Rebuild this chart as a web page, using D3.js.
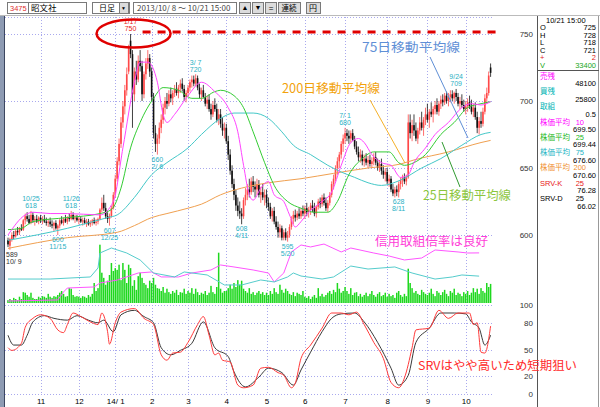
<!DOCTYPE html>
<html><head><meta charset="utf-8">
<script src="https://cdn.jsdelivr.net/npm/d3@7"></script>
<style>body{margin:0;background:#fff;}svg{display:block;font-family:"Liberation Sans",Arial,sans-serif;}</style>
</head><body><svg id="c" width="600" height="407"></svg>
<script>
// ---- daily OHLC (2013/10/8 .. 2014/10/21), month by month ----
const open=[596,592,597,600,599,603,602,605,604,611,614,612,609,615,611,612,610,
613,611,612,610,609,610,608,607,609,605,607,611,609,612,610,613,612,615,612,613,
611,612,610,611,609,610,608,609,611,609,610,612,619,624,620,614,612,614,620,
630,642,655,668,684,696,708,722,745,735,705,722,716,730,726,705,720,728,732,
722,703,676,668,672,680,686,695,700,698,705,702,706,709,706,710,713,709,703,
706,710,714,716,713,717,710,705,708,703,698,701,694,690,697,694,686,690,683,678,
680,670,660,648,638,630,622,618,616,614,626,630,634,632,640,636,634,638,630,632,628,
630,624,621,614,618,610,606,602,605,598,602,598,600,606,612,615,613,616,614,618,
616,620,617,619,622,620,616,621,625,623,628,624,620,624,630,638,642,650,655,660,668,
672,676,674,672,676,671,666,662,658,660,655,657,654,656,653,655,658,654,650,653,648,645,
647,640,642,634,631,634,632,638,641,643,640,643,684,676,682,678,672,678,684,680,686,
690,686,692,690,694,697,692,698,701,699,704,700,703,705,702,706,703,698,700,697,
694,696,699,696,692,695,688,680,685,683,692,702,706,725];
const high=[598,598,602,603,604,606,606,608,612,616,617,615,618,617,614,615,614,
615,614,615,613,612,613,611,610,611,608,612,614,613,615,614,616,618,617,615,615,
614,614,613,613,612,612,611,612,613,612,613,620,628,630,624,617,616,622,632,
645,658,672,688,700,712,725,742,750,738,725,730,734,738,730,722,732,738,735,
725,706,682,675,684,690,698,703,706,708,710,708,712,714,712,716,717,712,708,
712,716,719,719,720,719,713,710,712,706,704,705,698,700,702,698,694,694,688,684,
683,674,664,652,642,634,628,625,620,628,635,638,642,643,644,640,642,641,636,638,634,
634,628,624,620,621,614,610,608,607,604,605,603,608,614,618,619,618,620,620,622,
622,624,621,624,626,624,622,627,628,630,631,628,626,632,640,645,652,658,662,670,675,
680,679,678,678,679,674,670,666,664,663,660,661,659,660,658,661,662,657,656,657,652,650,
650,645,644,638,636,637,640,643,645,646,645,690,690,686,690,684,680,688,692,688,695,
698,694,699,696,700,702,700,704,705,706,707,706,708,708,707,709,706,703,705,701,
700,702,704,701,698,699,692,688,692,695,705,710,722,728];
const low=[591,589,595,597,598,600,600,603,603,608,610,608,608,609,607,609,608,
609,608,609,607,606,606,605,603,604,600,605,608,607,609,608,610,611,611,609,610,
608,609,607,608,606,607,606,607,608,607,608,611,617,618,612,609,607,613,619,
628,640,652,665,680,690,704,720,732,680,700,712,714,722,700,702,716,724,718,
700,672,662,660,668,676,683,690,694,696,699,697,703,704,702,706,707,700,699,
703,707,710,711,711,708,702,700,702,696,694,692,686,688,692,684,682,680,674,672,
668,656,645,635,626,618,614,612,608,612,622,626,628,630,632,628,630,628,624,626,622,
620,618,612,610,608,604,598,598,596,596,596,595,598,604,608,610,611,612,612,614,
612,614,613,615,617,614,613,619,620,621,622,618,617,622,628,634,640,645,650,657,662,
668,670,668,669,670,664,660,655,654,652,651,652,650,651,650,652,652,648,647,645,642,640,
638,636,632,629,628,629,628,634,636,638,637,642,672,670,674,670,668,675,678,674,682,
684,680,688,684,690,690,689,694,696,697,698,696,699,700,698,700,696,694,695,692,
690,692,694,690,688,686,676,675,680,681,690,698,704,718];
const close=[593,597,600,599,603,602,605,604,611,614,612,609,615,611,612,610,613,
611,612,610,609,610,608,607,609,605,607,611,609,612,610,613,612,615,612,613,611,
612,610,611,609,610,608,609,611,609,610,612,619,624,620,614,612,614,620,630,
642,655,668,684,696,708,720,740,735,705,722,716,730,726,705,720,728,732,722,
703,676,668,672,680,686,695,700,698,705,702,706,709,706,710,713,709,703,706,
710,714,716,713,717,710,705,708,703,698,701,694,690,697,694,686,690,683,678,680,
670,660,648,638,630,622,618,616,614,626,630,634,632,640,636,634,638,630,632,628,630,
624,621,614,618,610,606,602,605,598,602,598,600,606,612,615,613,616,614,618,616,
620,617,619,622,620,616,621,625,623,628,624,620,624,630,638,642,650,655,660,668,672,
676,674,672,676,671,666,662,658,660,655,657,654,656,653,655,658,654,650,653,648,645,647,
640,642,634,631,634,632,638,641,643,640,643,684,676,682,678,672,678,684,680,686,690,
686,692,690,694,697,692,698,701,699,704,700,703,705,702,706,703,698,700,697,694,
696,699,696,692,695,688,680,685,683,692,702,706,719,721];
// volume, thousand shares
const volume=[5,7,5,9,7,5,11,7,19,18,14,11,18,9,7,7,11,
9,12,11,9,16,11,9,12,11,14,18,21,16,11,12,26,25,14,11,12,
11,9,12,11,9,14,11,16,35,21,26,102,53,44,32,39,49,70,56,
61,58,67,40,70,58,35,67,61,30,40,23,47,53,44,35,32,26,39,
35,44,32,26,25,21,28,18,25,19,16,21,18,23,14,19,18,25,16,
21,18,26,16,25,19,14,18,16,21,14,18,30,19,16,28,88,25,18,21,
21,26,32,25,35,28,40,32,39,25,21,18,26,16,19,14,18,21,16,19,14,
18,14,21,16,26,19,16,32,23,18,25,21,16,14,19,12,18,16,14,21,
11,9,12,7,11,14,9,26,12,16,11,14,18,21,16,23,19,35,25,18,21,
28,21,16,26,14,18,19,12,16,11,14,18,12,16,21,14,11,16,19,12,14,18,
11,16,12,14,9,18,21,14,11,16,12,60,35,26,18,21,16,14,23,19,16,
14,18,25,16,12,21,18,14,19,23,16,12,21,18,25,14,18,16,12,19,
16,21,14,18,26,19,25,16,26,21,18,35,28,33.4];
// moving averages: [day index, price]
const ma10=[[0,600],[9,615],[13,617],[22,616],[31,616],[48,615],[55,625],[60,665],[66,714],[69,729],[73,729],[78,714],[81,690],[83,684],[87,690],[94,704],[101,714],[108,707],[115,695],[120,677],[123,652],[126,630],[128,626],[132,635],[136,640],[139,630],[144,625],[147,615],[150,606],[153,610],[157,617],[164,625],[169,632],[174,652],[179,669],[183,672],[186,669],[190,660],[195,654],[200,652],[205,643],[209,645],[212,654],[218,665],[223,675],[230,684],[237,695],[242,698],[247,697],[252,699.50]];
const ma25=[[0,604],[7,605],[13,610],[31,613],[48,616],[54,619],[59,635],[64,665],[69,684],[76,702],[81,710],[89,708],[96,702],[101,702],[108,707],[111,708],[118,704],[123,695],[128,677],[134,654],[139,637],[146,625],[153,620],[160,617],[167,617],[172,625],[178,645],[185,657],[191,662],[199,662],[204,654],[207,652],[212,654],[218,660],[226,675],[233,684],[240,695],[247,698],[252,699.44]];
const ma75=[[0,596],[31,605],[52,613],[57,615],[66,628],[75,645],[83,654],[94,665],[101,675],[111,687],[118,691],[128,691],[136,687],[143,677],[149,667],[158,660],[167,652],[174,647],[181,643],[188,639],[195,637],[205,641],[216,650],[226,657],[237,667],[247,675],[252,676.60]];
const ma200=[[0,590],[31,598],[57,602],[66,607],[75,613],[83,616],[94,620],[101,623],[111,630],[122,635],[136,639],[153,642],[170,646],[188,650],[205,653],[212,656],[230,662],[247,669],[252,670.60]];
// margin balances (shares)
const sellBal=[[0,1900],[26,2900],[29,10600],[31,14400],[45,15400],[48,19200],[57,22000],[68,28800],[75,29800],[80,25000],[89,25000],[96,28800],[106,31700],[111,36500],[118,34600],[128,31700],[136,28800],[139,20200],[144,28800],[148,49000],[153,55700],[158,53800],[165,56600],[174,49000],[179,52800],[191,48000],[199,45100],[207,41300],[216,43200],[223,50900],[235,49000],[240,48000],[246,48100]];
const buyBal=[[0,23000],[22,23000],[43,25000],[47,33600],[48,48000],[54,52800],[62,48000],[69,41300],[76,28800],[87,25000],[92,29800],[104,26900],[113,17300],[122,17300],[132,22100],[139,20200],[146,25000],[149,28800],[153,25900],[164,23000],[170,25000],[179,35500],[188,32600],[202,34600],[211,28800],[223,23000],[232,25000],[237,26900],[246,25800]];
// SRV stochastics
const srvK=[[0,52],[2,49],[7,57],[9,75],[13,85],[17,89],[22,85],[26,72],[29,69],[31,78],[34,91],[38,87],[44,80],[47,78],[49,91],[52,70],[53,56],[56,80],[59,92],[66,96],[71,85],[76,78],[80,44],[83,38],[86,46],[90,47],[94,58],[99,78],[102,87],[105,66],[108,44],[110,46],[112,38],[116,36],[120,10],[123,7],[128,10],[132,29],[136,30],[141,24],[144,21],[148,7],[150,12],[153,40],[158,55],[164,74],[169,91],[174,91],[178,89],[182,92],[186,78],[191,58],[196,40],[200,13],[204,7],[207,18],[211,52],[213,72],[220,74],[225,94],[230,85],[235,91],[241,91],[243,78],[245,80],[247,47],[249,46],[252,76.28]];
const srvD=[[0,66],[3,55],[7,55],[10,66],[13,81],[19,88],[24,85],[31,83],[36,88],[42,83],[47,80],[50,83],[55,70],[59,89],[66,94],[71,87],[76,80],[80,52],[85,44],[90,49],[96,57],[102,81],[108,52],[115,42],[118,25],[124,8],[131,19],[136,29],[143,24],[149,10],[153,27],[158,47],[164,70],[169,85],[174,90],[181,91],[186,81],[193,58],[200,29],[204,10],[209,21],[213,58],[220,74],[226,91],[233,91],[239,90],[242,81],[246,74],[249,55],[252,66.02]];
// axis ticks
const monthTicks=[17,37,56,75,94,114,135,155,176,198,219,239];
const monthLabels=["11","12","14/ 1","2","3","4","5","6","7","8","9","10"];
const priceTicks=[600,650,700,750];
const srvTicks=[0,20,50,80,100];
const extremes=[{i:1,t:"low",d:"10/ 9"},{i:12,t:"high",d:"10/25"},{i:26,t:"low",d:"11/15"},{i:33,t:"high",d:"11/26"},{i:53,t:"low",d:"12/25"},{i:64,t:"high",d:"1/17"},{i:78,t:"low",d:"2/ 6"},{i:98,t:"high",d:"3/ 7"},{i:122,t:"low",d:"4/11"},{i:146,t:"low",d:"5/20"},{i:176,t:"high",d:"7/ 1"},{i:204,t:"low",d:"8/11"},{i:234,t:"high",d:"9/24"}];

const svg=d3.select("#c");
const L=5,R=494,N=close.length-1;
const x=d3.scaleLinear().domain([0,252]).range([8,490.6]);
const yP=d3.scaleLinear().domain([600,750]).range([235,34]);
const yS=d3.scaleLinear().domain([0,100]).range([394,305]);
const yV=d3.scaleLinear().domain([0,120]).range([303,234.4]);
const yM=d3.scaleLinear().domain([0,60000]).range([303,240.5]);

svg.append("rect").attr("width",600).attr("height",407).attr("fill","#fff");
// frame
svg.append("rect").attr("x",0).attr("y",16).attr("width",4).attr("height",391).attr("fill","#8e9bb3");
svg.append("line").attr("x1",4.5).attr("x2",4.5).attr("y1",16).attr("y2",407).attr("stroke","#3c4660");
svg.append("line").attr("x1",537.5).attr("x2",537.5).attr("y1",15).attr("y2",407).attr("stroke","#555");
svg.append("line").attr("x1",598.5).attr("x2",598.5).attr("y1",15).attr("y2",407).attr("stroke","#999");
svg.append("line").attr("x1",537).attr("x2",599).attr("y1",70.5).attr("y2",70.5).attr("stroke","#555");

// grid
const grid=svg.append("g").attr("stroke","#a9a9ee").attr("stroke-dasharray","1,2");
grid.append("line").attr("x1",L).attr("x2",R).attr("y1",17.5).attr("y2",17.5);
priceTicks.forEach(v=>grid.append("line").attr("x1",L).attr("x2",R).attr("y1",Math.round(yP(v))+0.5).attr("y2",Math.round(yP(v))+0.5));
srvTicks.forEach(v=>grid.append("line").attr("x1",L).attr("x2",R).attr("y1",Math.round(yS(v))+0.5).attr("y2",Math.round(yS(v))+0.5));
monthTicks.forEach(i=>grid.append("line").attr("x1",Math.round(x(i))+0.5).attr("x2",Math.round(x(i))+0.5).attr("y1",17).attr("y2",394));

// volume
svg.append("g").selectAll("rect").data(volume).join("rect")
 .attr("x",(d,i)=>x(i)-0.75).attr("width",1.5)
 .attr("y",d=>yV(d)).attr("height",d=>yV(0)-yV(d)).attr("fill","#1ed81e");
const lm=d3.line().x(d=>x(d[0])).y(d=>yM(d[1]));
svg.append("path").attr("d",lm(sellBal)).attr("fill","none").attr("stroke","#ff55ff");
svg.append("path").attr("d",lm(buyBal)).attr("fill","none").attr("stroke","#55cccc");

// candles
const cg=svg.append("g");
close.forEach((c,i)=>{
  const o=open[i],up=c>=o,col=up?"#ff4848":"#111";
  cg.append("line").attr("x1",x(i)).attr("x2",x(i)).attr("y1",yP(high[i])).attr("y2",yP(low[i])).attr("stroke",col).attr("stroke-width",0.8);
  const top=yP(Math.max(o,c)),h=Math.max(1,Math.abs(yP(o)-yP(c)));
  cg.append("rect").attr("x",x(i)-0.8).attr("width",1.6).attr("y",top).attr("height",h).attr("fill",col);
});

// moving averages
const lp=d3.line().x(d=>x(d[0])).y(d=>yP(d[1])).curve(d3.curveMonotoneX);
[[ma200,"#f0a050"],[ma75,"#44c8c8"],[ma25,"#33cc33"],[ma10,"#ff44ff"]].forEach(([d,c])=>
  svg.append("path").attr("d",lp(d)).attr("fill","none").attr("stroke",c).attr("stroke-width",1));

// extreme labels
const maxI=d3.maxIndex(high);
const eg=svg.append("g").attr("font-size",7).attr("text-anchor","middle");
extremes.forEach(e=>{
  const isHigh=e.t==="high", p=isHigh?high[e.i]:low[e.i];
  const col=e.i===maxI?"#e82020":(e.i===1?"#333":"#2ab0c4");
  let lx=x(e.i), anchor="middle";
  if(lx<15){lx=6;anchor="start";}
  const y0=yP(p);
  const a=isHigh?[e.d,y0-12]:[String(p),y0+4.5];
  const b=isHigh?[String(p),y0-5]:[e.d,y0+11.5];
  [a,b].forEach(([t,yy])=>eg.append("text").attr("x",lx).attr("y",yy).attr("dy","0.35em").attr("text-anchor",anchor).attr("fill",col).text(t));
});

// SRV
const ls=d3.line().x(d=>x(d[0])).y(d=>yS(d[1])).curve(d3.curveMonotoneX);
svg.append("path").attr("d",ls(srvD)).attr("fill","none").attr("stroke","#3a3a3a").attr("stroke-width",1);
svg.append("path").attr("d",ls(srvK)).attr("fill","none").attr("stroke","#ff3a3a").attr("stroke-width",1);

// high marker
svg.append("ellipse").attr("cx",x(maxI)+3).attr("cy",yP(high[maxI])-0.5).attr("rx",37).attr("ry",14)
 .attr("fill","none").attr("stroke","#e00000").attr("stroke-width",2.5);
svg.append("line").attr("x1",x(maxI)+12).attr("x2",497).attr("y1",yP(high[maxI])-2).attr("y2",yP(high[maxI])-2)
 .attr("stroke","#e00000").attr("stroke-width",2.8).attr("stroke-dasharray","8,7");

// axes
const ay=svg.append("g").attr("transform","translate(533,0)");
function styleAxis(g){g.select(".domain").remove();g.selectAll("text").attr("font-size",8).attr("fill","#333").attr("font-family","Liberation Sans, Arial");}
ay.append("g").call(d3.axisRight(yP).tickValues(priceTicks).tickSize(0).tickPadding(0)).call(styleAxis).selectAll("text").attr("text-anchor","end");
ay.append("g").call(d3.axisRight(yS).tickValues(srvTicks).tickSize(0).tickPadding(0)).call(styleAxis).selectAll("text").attr("text-anchor","end");
svg.append("g").attr("transform","translate(0,395)")
 .call(d3.axisBottom(x).tickValues(monthTicks).tickFormat((d,k)=>monthLabels[k]).tickSize(0).tickPadding(3))
 .call(styleAxis).selectAll("text").attr("fill","#000");

// annotations
const jp="'Noto Sans CJK JP',sans-serif";
const ann=svg.append("g");
[[430,57,468,138,"#5f8fd6"],[370,100,405,163,"#f5b12a"],[442,142,460,187,"#2f9a2f"]].forEach(([a,b,c,d,col])=>
  ann.append("line").attr("x1",a).attr("y1",b).attr("x2",c).attr("y2",d).attr("stroke",col).attr("stroke-width",1));
function note(t,xx,yy,len,col,fs){ann.append("text").attr("x",xx).attr("y",yy).attr("font-family",jp).attr("font-size",fs||12.5)
  .attr("fill",col).attr("textLength",len).attr("lengthAdjust","spacingAndGlyphs").text(t);}
note("75日移動平均線",362,52,98,"#5f8fd6");
note("200日移動平均線",282,93,98,"#f2a20c");
note("25日移動平均線",423,200,88,"#8cc63e");
note("信用取組倍率は良好",375,246,113,"#ff3ed8");
note("SRVはやや高いため短期狙い",418,370,159,"#ff2a2a",12);

// toolbar
const tb=svg.append("g");
tb.append("rect").attr("width",600).attr("height",15).attr("fill","#fff");
tb.append("line").attr("x1",0).attr("x2",600).attr("y1",15.5).attr("y2",15.5).attr("stroke","#bbb");
function box(x0,w,fill){tb.append("rect").attr("x",x0+0.5).attr("y",2.5).attr("width",w).attr("height",11).attr("fill",fill).attr("stroke","#7a7a7a");}
box(7,21,"#fff");box(28,58,"#fff");box(92,37,"#fff");box(119,9,"#dcdcdc");box(133,103,"#fff");
box(239,11,"#dcdcdc");box(252,11,"#dcdcdc");box(265,11,"#dcdcdc");box(278,22,"#dcdcdc");box(306,14,"#dcdcdc");
function tt(t,xx,col,size,fam,anchor){tb.append("text").attr("x",xx).attr("y",8).attr("dy","0.35em").attr("font-size",size||8)
  .attr("fill",col||"#000").attr("font-family",fam||"Liberation Sans, Arial").attr("text-anchor",anchor||"start").text(t);}
tt("3475",10,"#e03030",7.5);
tt("昭文社",31,"#000",8.5,jp);
tt("日足",99,"#000",8,jp);
tt("▼",123.5,"#000",5,null,"middle");
tt("2013/10/ 8 ～ 10/21 15:00",137,"#444",8,jp);
tt("▲",245,"#000",7,null,"middle");tt("▼",258,"#000",7,null,"middle");tt("=",271,"#000",8,null,"middle");
tt("連続",289,"#000",7.5,jp,"middle");tt("円",313,"#000",8,jp,"middle");

// info panel
const ip=svg.append("g").attr("font-size",7.5).attr("font-family","Liberation Sans, Arial");
function it(t,xx,yy,col,anchor,fam){ip.append("text").attr("x",xx).attr("y",yy).attr("dy","0.35em").attr("fill",col||"#000")
  .attr("text-anchor",anchor||"start").attr("font-family",fam||null).text(t);}
it("10/21  15:00",546,20);
const vol=Math.round(volume[N]*1000);
[["O",open[N],"#000"],["H",high[N],"#000"],["L",low[N],"#000"],["C",close[N],"#000"],["+",close[N]-close[N-1],"#e02020"],["V",vol,"#18a818"]]
 .forEach((r,k)=>{const yy=27.5+k*7.5;it(r[0],540,yy,r[2]);it(String(r[1]),596,yy,r[2],"end");});
const sb=sellBal[sellBal.length-1][1], bb=buyBal[buyBal.length-1][1];
const lastOf=a=>a[a.length-1][1];
const rows=[
 [["売残",540,"#ff00ff","start",jp]],[[String(sb),596,"#000","end"]],
 [["買残",540,"#00b4b4","start",jp]],[[String(bb),596,"#000","end"]],
 [["取組",540,"#00b4b4","start",jp]],[[(bb/sb).toFixed(1),596,"#000","end"]],
 [["株価平均",540,"#ff00ff","start",jp],["10",584,"#ff00ff","end"]],[[lastOf(ma10).toFixed(2),596,"#000","end"]],
 [["株価平均",540,"#22b822","start",jp],["25",584,"#22b822","end"]],[[lastOf(ma25).toFixed(2),596,"#000","end"]],
 [["株価平均",540,"#22b4c4","start",jp],["75",584,"#22b4c4","end"]],[[lastOf(ma75).toFixed(2),596,"#000","end"]],
 [["株価平均",540,"#f09030","start",jp],["200",586,"#f09030","end"]],[[lastOf(ma200).toFixed(2),596,"#000","end"]],
 [["SRV-K",540,"#e82020"],["25",584,"#e82020","end"]],[[lastOf(srvK).toFixed(2),596,"#000","end"]],
 [["SRV-D",540,"#000"],["25",584,"#000","end"]],[[lastOf(srvD).toFixed(2),596,"#000","end"]]
];
rows.forEach((r,k)=>{const yy=76+k*7.65;r.forEach(c=>it(c[0],c[1],yy,c[2],c[3],c[4]));});
</script></body></html>
